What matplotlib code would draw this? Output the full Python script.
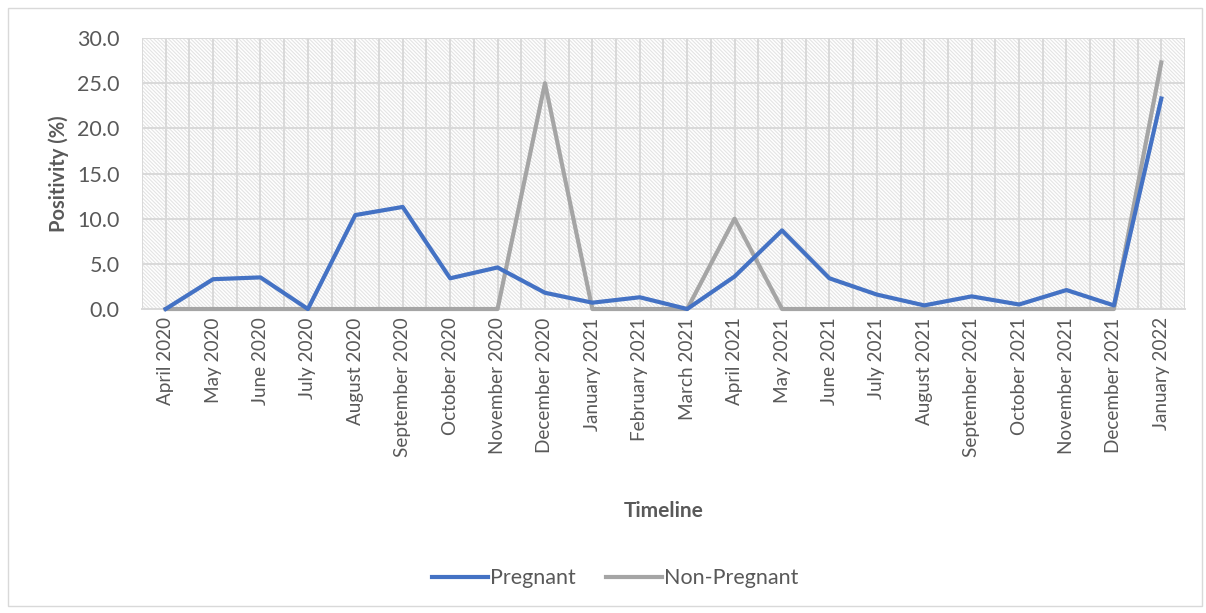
import matplotlib
matplotlib.use('Agg')
import matplotlib.pyplot as plt
from matplotlib.patches import Rectangle

plt.rcParams['font.family'] = ['Lato', 'DejaVu Sans']
plt.rcParams['hatch.linewidth'] = 0.8

# 数据
months = ['April 2020', 'May 2020', 'June 2020', 'July 2020', 'August 2020',
          'September 2020', 'October 2020', 'November 2020', 'December 2020',
          'January 2021', 'February 2021', 'March 2021', 'April 2021', 'May 2021',
          'June 2021', 'July 2021', 'August 2021', 'September 2021',
          'October 2021', 'November 2021', 'December 2021', 'January 2022']
pregnant = [0.0, 3.3, 3.5, 0.0, 10.4, 11.3, 3.4, 4.6, 1.8, 0.7, 1.3, 0.0,
            3.6, 8.7, 3.4, 1.6, 0.4, 1.4, 0.5, 2.1, 0.4, 23.3]
non_pregnant = [0.0, 0.0, 0.0, 0.0, 0.0, 0.0, 0.0, 0.0, 25.0, 0.0, 0.0, 0.0,
                10.0, 0.0, 0.0, 0.0, 0.0, 0.0, 0.0, 0.0, 0.0, 27.3]
y_ticks = [0, 5, 10, 15, 20, 25, 30]

text_color = '#595959'
grid_color = '#d9d9d9'

fig = plt.figure(figsize=(12.06, 6.13), dpi=100)
ax = fig.add_axes([0.1177, 0.4959, 0.8649, 0.4421])

# 外框
fig.patches.append(Rectangle((0.007, 0.012), 0.99, 0.975, transform=fig.transFigure,
                             fill=False, edgecolor=grid_color, linewidth=1.0))

# 斜线底纹
ax.patch.set_facecolor('white')
ax.add_patch(Rectangle((0, 0), 1, 1, transform=ax.transAxes, facecolor='white',
                       edgecolor='#e4e4e4', hatch='\\' * 9, linewidth=0, zorder=0))

x = list(range(len(months)))
ax.plot(x, non_pregnant, color='#A5A5A5', linewidth=3.0, label='Non-Pregnant',
        solid_joinstyle='round', zorder=3, clip_on=False)
ax.plot(x, pregnant, color='#4472C4', linewidth=3.0, label='Pregnant',
        solid_joinstyle='round', zorder=4, clip_on=False)

ax.set_xlim(-0.5, len(months) - 0.5)
ax.set_ylim(0, 30)
ax.set_xticks(x)
ax.set_xticks([i - 0.5 for i in range(len(months) + 1)], minor=True)
ax.set_xticklabels(months, rotation=90, fontsize=13.6, color=text_color)
ax.set_yticks(y_ticks)
ax.set_yticklabels([f'{v:.1f}' for v in y_ticks], fontsize=15.5, color=text_color)
ax.tick_params(axis='both', which='both', length=0)
ax.tick_params(axis='x', pad=6)
ax.tick_params(axis='y', pad=16)

ax.grid(True, which='both', color=grid_color, linewidth=1.4, zorder=1)
ax.set_axisbelow(True)
for side in ['left', 'top', 'right']:
    ax.spines[side].set_visible(False)
ax.spines['bottom'].set_color(grid_color)
ax.spines['bottom'].set_linewidth(1.4)

ax.set_ylabel('Positivity (%)', fontsize=14.5, fontweight='bold', color=text_color, labelpad=6)
ax.set_xlabel('Timeline', fontsize=15, fontweight='bold', color=text_color, labelpad=32)

handles, labels = ax.get_legend_handles_labels()
fig.legend(handles[::-1], labels[::-1], loc='center', bbox_to_anchor=(0.51, 0.057),
           ncol=2, frameon=False, fontsize=15.5, handlelength=2.6, handletextpad=0.1,
           columnspacing=1.4, labelcolor=text_color)

plt.savefig('out.png', dpi=100)
